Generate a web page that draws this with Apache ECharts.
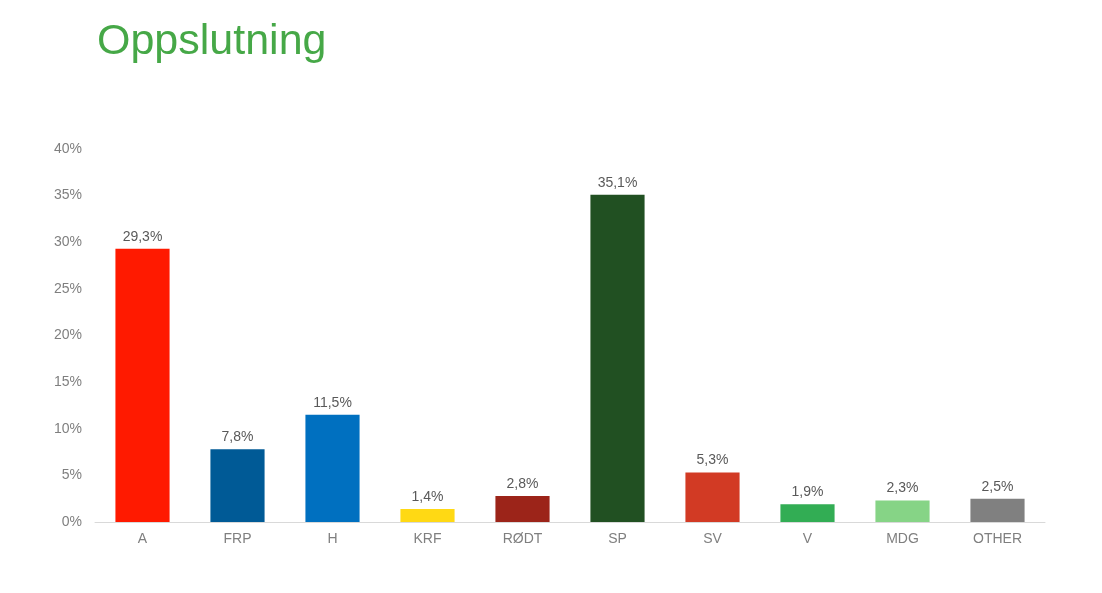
<!DOCTYPE html>
<html>
<head>
<meta charset="utf-8">
<script src="https://cdn.jsdelivr.net/npm/echarts@6/dist/echarts.min.js"></script>
<style>
html,body{margin:0;padding:0;background:#fff;}
#c{width:1102px;height:593px;}
</style>
</head>
<body>
<div id="c"></div>
<script>
const categories = ['A','FRP','H','KRF','RØDT','SP','SV','V','MDG','OTHER'];
const values = [29.3, 7.8, 11.5, 1.4, 2.8, 35.1, 5.3, 1.9, 2.3, 2.5];
const colors = ['#ff1a00','#005a96','#0070c0','#ffd914','#9c2419','#215022','#d23a24','#32ad54','#86d486','#808080'];
const yTicks = [0,5,10,15,20,25,30,35,40];

const chart = echarts.init(document.getElementById('c'));
chart.setOption({
  animation: false,
  backgroundColor: '#ffffff',
  title: {
    text: 'Oppslutning',
    left: 92,
    top: 16,
    textStyle: {color: '#46a847', fontSize: 43, fontWeight: 'normal', fontFamily: 'Liberation Sans, Arial, sans-serif'}
  },
  grid: {left: 95, right: 57, top: 149, bottom: 71, containLabel: false},
  xAxis: {
    type: 'category',
    data: categories,
    axisLine: {lineStyle: {color: '#d9d9d9', width: 1}},
    axisTick: {show: false},
    axisLabel: {color: '#7f7f7f', fontSize: 14, margin: 10, fontFamily: 'Liberation Sans, Arial, sans-serif'}
  },
  yAxis: {
    type: 'value',
    min: yTicks[0],
    max: yTicks[yTicks.length-1],
    interval: 5,
    splitLine: {show: false},
    axisLine: {show: false},
    axisTick: {show: false},
    axisLabel: {color: '#7f7f7f', fontSize: 14, margin: 13, formatter: v => v + '%', fontFamily: 'Liberation Sans, Arial, sans-serif'}
  },
  series: [{
    type: 'bar',
    barWidth: '57%',
    data: values.map((v,i) => ({value: v, itemStyle: {color: colors[i]}})),
    label: {
      show: true,
      position: 'top',
      distance: 5,
      color: '#595959',
      fontSize: 14,
      fontFamily: 'Liberation Sans, Arial, sans-serif',
      formatter: p => p.value.toFixed(1).replace('.', ',') + '%'
    }
  }]
});
</script>
</body>
</html>
